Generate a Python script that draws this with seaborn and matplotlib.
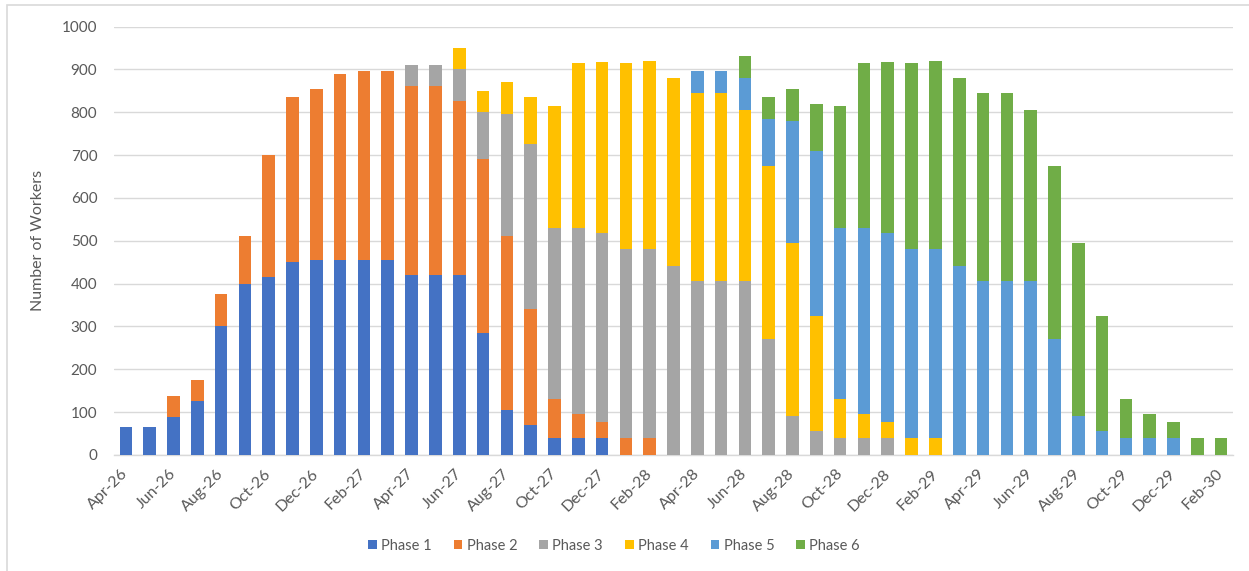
import numpy as np
import pandas as pd
import matplotlib
matplotlib.use("Agg")
import matplotlib.pyplot as plt
import seaborn as sns
from matplotlib.patches import Patch, Rectangle

months = ["Apr-26", "May-26", "Jun-26", "Jul-26", "Aug-26", "Sep-26", "Oct-26", "Nov-26", "Dec-26",
          "Jan-27", "Feb-27", "Mar-27", "Apr-27", "May-27", "Jun-27", "Jul-27", "Aug-27", "Sep-27",
          "Oct-27", "Nov-27", "Dec-27", "Jan-28", "Feb-28", "Mar-28", "Apr-28", "May-28", "Jun-28",
          "Jul-28", "Aug-28", "Sep-28", "Oct-28", "Nov-28", "Dec-28", "Jan-29", "Feb-29", "Mar-29",
          "Apr-29", "May-29", "Jun-29", "Jul-29", "Aug-29", "Sep-29", "Oct-29", "Nov-29", "Dec-29",
          "Jan-30", "Feb-30"]

phase1 = [65, 65, 88, 125, 300, 400, 415, 450, 455, 455, 455, 455, 420, 420, 420, 285, 105, 70, 40, 40, 40,
          0, 0, 0, 0, 0, 0, 0, 0, 0, 0, 0, 0, 0, 0, 0, 0, 0, 0, 0, 0, 0, 0, 0, 0, 0, 0]
phase2 = [0, 0, 50, 50, 75, 110, 285, 385, 400, 435, 440, 440, 440, 440, 405, 405, 405, 270, 90, 55, 38,
          40, 40, 0, 0, 0, 0, 0, 0, 0, 0, 0, 0, 0, 0, 0, 0, 0, 0, 0, 0, 0, 0, 0, 0, 0, 0]
phase3 = [0, 0, 0, 0, 0, 0, 0, 0, 0, 0, 0, 0, 50, 50, 75, 110, 285, 385, 400, 435, 440,
          440, 440, 440, 405, 405, 405, 270, 90, 55, 40, 40, 40, 0, 0, 0, 0, 0, 0, 0, 0, 0, 0, 0, 0, 0, 0]
phase4 = [0, 0, 0, 0, 0, 0, 0, 0, 0, 0, 0, 0, 0, 0, 50, 50, 75, 110, 285, 385, 400,
          435, 440, 440, 440, 440, 400, 405, 405, 270, 90, 55, 38, 40, 40, 0, 0, 0, 0, 0, 0, 0, 0, 0, 0, 0, 0]
phase5 = [0, 0, 0, 0, 0, 0, 0, 0, 0, 0, 0, 0, 0, 0, 0, 0, 0, 0, 0, 0, 0,
          0, 0, 0, 50, 50, 75, 110, 285, 385, 400, 435, 440, 440, 440, 440, 405, 405, 405, 270, 90, 55,
          40, 40, 40, 0, 0]
phase6 = [0, 0, 0, 0, 0, 0, 0, 0, 0, 0, 0, 0, 0, 0, 0, 0, 0, 0, 0, 0, 0,
          0, 0, 0, 0, 0, 50, 50, 75, 110, 285, 385, 400, 435, 440, 440, 440, 440, 400, 405, 405, 270,
          90, 55, 38, 40, 40]

phase_names = ["Phase 1", "Phase 2", "Phase 3", "Phase 4", "Phase 5", "Phase 6"]
phase_colors = ["#4472C4", "#ED7D31", "#A5A5A5", "#FFC000", "#5B9BD5", "#70AD47"]
y_ticks = [0, 100, 200, 300, 400, 500, 600, 700, 800, 900, 1000]

sns.set_theme(style="white")
plt.rcParams['font.family'] = ['Lato', 'DejaVu Sans']
TXT = "#595959"
GRID = "#D9D9D9"

W, H = 1249, 571
fig = plt.figure(figsize=(W / 100, H / 100), dpi=100)
x0, x1, ytop, ybot = 114, 1233, 26.5, 455
ax = fig.add_axes([x0 / W, 1 - ybot / H, (x1 - x0) / W, (ybot - ytop) / H])

series = [phase1, phase2, phase3, phase4, phase5, phase6]
cum = np.cumsum(np.array(series), axis=0)
df = pd.DataFrame({"Month": months})
for i in range(6):
    df[f"cum{i}"] = cum[i]

for i in reversed(range(6)):
    sns.barplot(data=df, x="Month", y=f"cum{i}", color=phase_colors[i], saturation=1,
                width=0.53, linewidth=0, errorbar=None, ax=ax, zorder=3)

ax.set_ylim(0, 1000)
ax.set_xlim(-0.5, len(months) - 0.5)
ax.set_yticks(y_ticks)
ax.set_yticklabels([str(v) for v in y_ticks], fontsize=11, color=TXT)
ax.set_xticks(range(0, len(months), 2))
ax.set_xticklabels(months[::2], rotation=45, ha="right", va="center",
                   rotation_mode="anchor", fontsize=11.5, color=TXT)
ax.set_xticks(np.arange(-0.5, len(months) - 1, 2), minor=True)
ax.tick_params(axis="x", which="major", length=0, pad=12)
ax.tick_params(axis="x", which="minor", length=5, width=1, color=GRID)
ax.tick_params(axis="y", length=0, pad=12)

ax.set_axisbelow(True)
ax.yaxis.grid(True, color=GRID, linewidth=1)
ax.xaxis.grid(False)
for s in ["top", "right", "left"]:
    ax.spines[s].set_visible(False)
ax.spines["bottom"].set_color(GRID)
ax.spines["bottom"].set_linewidth(1)

ax.set_xlabel("")
ax.set_ylabel("Number of Workers", fontsize=11.5, color=TXT)
ax.yaxis.set_label_coords((45 - x0) / (x1 - x0), 0.5)

handles = [Patch(facecolor=c, edgecolor="none") for c in phase_colors]
fig.legend(handles, phase_names, loc="center", bbox_to_anchor=(614 / W, 1 - 546 / H),
           ncol=6, frameon=False, fontsize=10.5, handlelength=0.6, handleheight=0.6,
           handletextpad=0.3, columnspacing=1.5, labelcolor=TXT)

fig.patches.append(Rectangle((7 / W, -0.1), 2, 1.1 - 5 / H, transform=fig.transFigure,
                             fill=False, edgecolor=GRID, linewidth=1.2))

fig.savefig("out.png", dpi=100)
